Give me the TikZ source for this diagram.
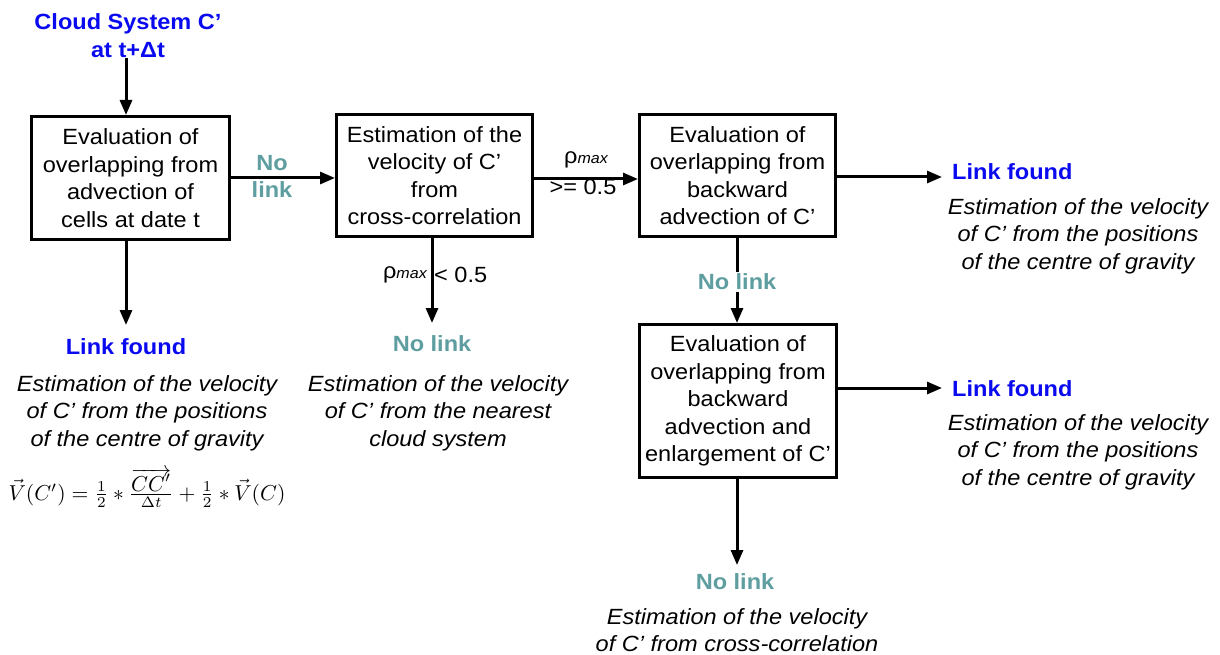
\documentclass[tikz,border=0pt]{standalone}
\usepackage{fontspec}
\setmainfont{Liberation Sans}[FakeStretch=1.07]
\usetikzlibrary{arrows.meta}
\definecolor{linkblue}{RGB}{10,10,240}
\definecolor{noteal}{RGB}{95,158,160}
\begin{document}
\begin{tikzpicture}[x=1pt,y=-1pt,
  box/.style={draw,line width=3pt,align=center,inner sep=0pt,font=\fontsize{22}{27.5}\selectfont},
  arr/.style={line width=3pt,-{Triangle[length=15pt,width=12pt]}},
  lf/.style={text=linkblue,font=\fontsize{22}{27}\selectfont\bfseries,inner sep=0pt},
  nl/.style={text=noteal,font=\fontsize{22}{27}\selectfont\bfseries,inner sep=0pt,align=center},
  est/.style={align=center,font=\fontsize{22}{27.5}\selectfont\itshape,inner sep=0pt},
  cond/.style={font=\fontsize{22}{27}\selectfont,inner sep=0pt},
  title/.style={text=linkblue,align=center,font=\fontsize{22}{28}\selectfont\bfseries,inner sep=0pt}
]
\useasboundingbox (0,0) rectangle (1220,655);

% title
\node[title] (title) at (128,36) {Cloud System C’\\at t+Δt};

% boxes
\node[box,minimum width=198pt,minimum height=123pt] (b1) at (130.5,178)
  {Evaluation of\\overlapping from\\advection of\\cells at date t};
\node[box,minimum width=196pt,minimum height=122pt] (b2) at (434.5,175.5)
  {Estimation of the\\velocity of C’\\from\\cross-correlation};
\node[box,minimum width=196pt,minimum height=122pt] (b3) at (737.5,175.5)
  {Evaluation of\\overlapping from\\backward\\advection of C’};
\node[box,minimum width=197pt,minimum height=153pt] (b4) at (738,401)
  {Evaluation of\\overlapping from\\backward\\advection and\\enlargement of C’};

% outcome labels
\node[lf] (lf1) at (126,347) {Link found};
\node[est] (e1) at (147,413) {Estimation of the velocity\\of C’ from the positions\\of the centre of gravity};
\node[inner sep=0pt] (f1) at (147,488) {\resizebox{277pt}{!}{$\vec V(C')=\frac{1}{2}*\frac{\overrightarrow{CC'}}{\Delta t}+\frac{1}{2}*\vec V(C)$}};

\node[nl] (nl2) at (432,344) {No link};
\node[est] (e2) at (438,413) {Estimation of the velocity\\of C’ from the nearest\\cloud system};

\node[lf,anchor=west] (lf3) at (952,172) {Link found};
\node[est] (e3) at (1078,236) {Estimation of the velocity\\of C’ from the positions\\of the centre of gravity};

\node[lf,anchor=west] (lf4) at (952,389) {Link found};
\node[est] (e4) at (1078,452) {Estimation of the velocity\\of C’ from the positions\\of the centre of gravity};

\node[nl] (nl5) at (735,582) {No link};
\node[est] (e5) at (737,630) {Estimation of the velocity\\of C’ from cross-correlation};

% free arrow ends
\coordinate (t1) at (126,325);
\coordinate (t2) at (432,323);
\coordinate (t3) at (942,177);
\coordinate (t4) at (942,388);
\coordinate (t5) at (737,565);

% connectors
\draw[arr] (title.south -| 126,0) -- (b1.north -| 126,0);
\draw[arr] (b1.south -| t1) -- (t1);
\draw[arr] (b1.east |- 0,178) -- (b2.west |- 0,178);
\draw[arr] (b2.east |- 0,179) -- (b3.west |- 0,179);
\draw[arr] (b2.south -| t2) -- (t2);
\draw[arr] (b3.east |- t3) -- (t3);
\draw[arr] (b3.south -| t5) -- (b4.north -| t5);
\draw[arr] (b4.east |- t4) -- (t4);
\draw[arr] (b4.south -| t5) -- (t5);

% connector labels
\node[nl] (nl1) at (272,176) {No\\link};
\node[cond] (c1) at (586,160) {ρ{\fontsize{15}{15}\selectfont\itshape max}};
\node[cond] (c2) at (583,187) {>= 0.5};
\node[cond,anchor=east] (c3) at (427,275) {ρ{\fontsize{15}{15}\selectfont\itshape max}};
\node[cond,anchor=west] (c4) at (434,275) {< 0.5};
\node[nl,fill=white,inner sep=2pt] (nl3) at (737,282) {No link};
\end{tikzpicture}
\end{document}
